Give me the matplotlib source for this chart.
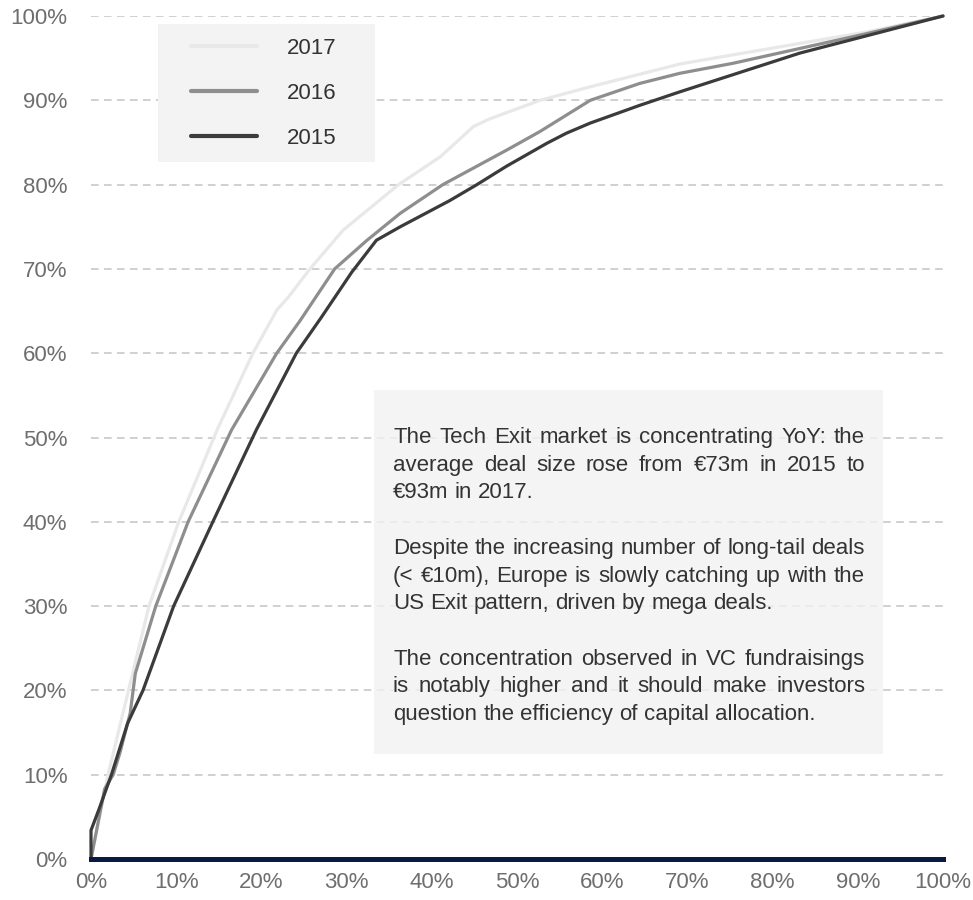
import matplotlib
matplotlib.use('Agg')
import matplotlib.pyplot as plt
from matplotlib.patches import Rectangle
from matplotlib.ticker import PercentFormatter

plt.rcParams['font.family'] = ['Liberation Sans', 'DejaVu Sans']

# cumulative share of exit value vs cumulative share of deals
x2017 = [0, 2.0, 4.4, 6.8, 10.3, 14.8, 19.0, 21.8, 23.2, 25.7, 29.6, 36.1, 41.0, 44.9, 46.8,
         52.7, 58.6, 69.1, 75.4, 91.0, 100]
y2017 = [0, 10, 20, 30, 40, 50.9, 60, 65.1, 66.7, 70, 74.6, 80, 83.3, 86.9, 87.8,
         90, 91.6, 94.3, 95.4, 98.1, 100]

x2016 = [0, 1.6, 2.6, 3.4, 4.6, 5.2, 7.6, 11.4, 16.5, 21.8, 24.5, 28.6, 32.4, 36.3, 41.3,
         48.8, 52.7, 58.6, 64.4, 69.1, 75.4, 91.0, 100]
y2016 = [0, 8.3, 10, 12.6, 17.3, 22, 30, 40, 50.9, 60, 63.8, 70, 73.4, 76.6, 80,
         84.1, 86.3, 90, 92.0, 93.2, 94.4, 97.9, 100]

x2015 = [0, 0, 0.9, 2.4, 4.3, 6.1, 9.7, 14.3, 19.4, 24.1, 27.0, 30.6, 33.5, 36.3, 42.1,
         45.3, 48.8, 53.5, 55.8, 58.6, 64.4, 69.1, 83.2, 100]
y2015 = [0, 3.4, 5.8, 10, 16.1, 20, 30, 40, 50.9, 60, 64.2, 69.6, 73.4, 75.0, 78.1,
         80, 82.2, 84.9, 86.1, 87.3, 89.4, 91.0, 95.6, 100]

years = ['2017', '2016', '2015']
colors = ['#e8e8e8', '#8e8e8e', '#3b3b3b']

note = [
    ["The Tech Exit market is concentrating YoY: the",
     "average deal size rose from €73m in 2015 to",
     "€93m in 2017."],
    ["Despite the increasing number of long-tail deals",
     "(< €10m), Europe is slowly catching up with the",
     "US Exit pattern, driven by mega deals."],
    ["The concentration observed in VC fundraisings",
     "is notably higher and it should make investors",
     "question the efficiency of capital allocation."],
]

W, H = 973, 900
fig = plt.figure(figsize=(W / 100, H / 100), dpi=100)
ax = fig.add_axes([91 / W, 1 - 859 / H, (943 - 91) / W, (859 - 16) / H])

for xs, ys, yr, c in zip([x2017, x2016, x2015], [y2017, y2016, y2015], years, colors):
    ax.plot(xs, ys, color=c, lw=2.3, label=yr, clip_on=False, zorder=3,
            solid_joinstyle='round', solid_capstyle='round')

ax.set_xlim(0, 100)
ax.set_ylim(0, 100)
ax.set_xticks(range(0, 101, 10))
ax.set_yticks(range(0, 101, 10))
ax.xaxis.set_major_formatter(PercentFormatter(decimals=0))
ax.yaxis.set_major_formatter(PercentFormatter(decimals=0))
ax.tick_params(length=0, labelsize=16, labelcolor='#6e6e6e')
ax.tick_params(axis='y', pad=17)
ax.tick_params(axis='x', pad=9)
ax.yaxis.grid(True, color='#c4c4c4', lw=1.1, linestyle=(0, (5, 3.5)))
ax.set_axisbelow(True)
for s in ['top', 'right', 'left']:
    ax.spines[s].set_visible(False)
ax.spines['bottom'].set_color('#0a1942')
ax.spines['bottom'].set_linewidth(3.6)
ax.spines['bottom'].set_zorder(4)

# legend with a light grey panel behind it
ax.add_patch(Rectangle((158 / W, 1 - 162 / H), 217 / W, 138 / H,
                       transform=fig.transFigure, facecolor='#f3f3f3',
                       edgecolor='none', zorder=2, clip_on=False))
leg = ax.legend(loc='upper left', bbox_to_anchor=(191 / W, 1 - 38 / H),
                bbox_transform=fig.transFigure, frameon=False, fontsize=16,
                handlelength=2.95, handletextpad=1.35, labelspacing=1.07,
                borderpad=0, borderaxespad=0)
leg.set_zorder(5)
for t in leg.get_texts():
    t.set_color('#333333')
for l in leg.get_lines():
    l.set_linewidth(3)

# note panel, grid shows faintly through it
ax.add_patch(Rectangle((374 / W, 1 - 754 / H), (883 - 374) / W, (754 - 390) / H,
                       transform=fig.transFigure, facecolor='#f2f2f2', alpha=0.8,
                       edgecolor='none', zorder=1.5, clip_on=False))

# justified note text
renderer = fig.canvas.get_renderer()


def width(s):
    t = fig.text(0, 0, s, fontsize=16)
    w = t.get_window_extent(renderer).width
    t.remove()
    return w


left, right = 393, 865
line_h = 27.7
space = width('a a') - width('aa')
y = 435
for para in note:
    for i, line in enumerate(para):
        words = line.split(' ')
        ws = [width(w) for w in words]
        last = i == len(para) - 1
        gap = space if last else (right - left - sum(ws)) / (len(words) - 1)
        xp = left
        for w, wd in zip(words, ws):
            fig.text(xp / W, 1 - y / H, w, fontsize=16, color='#333333',
                     va='center_baseline', ha='left')
            xp += wd + gap
        y += line_h
    y += line_h

fig.savefig('out.png', dpi=100)
